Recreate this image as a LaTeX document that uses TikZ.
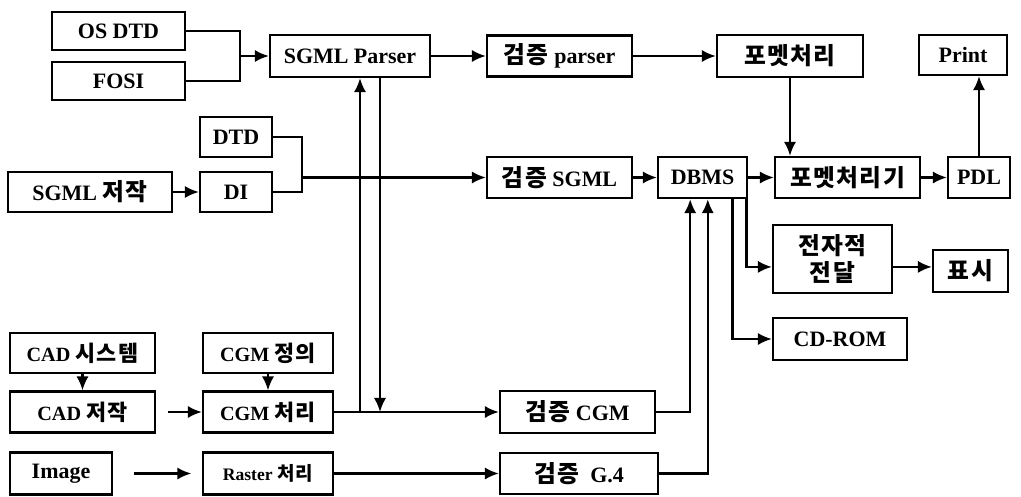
\documentclass[tikz,border=0pt]{standalone}
\usepackage{fontspec}
\setmainfont{Liberation Serif}
\newfontfamily\kr{Noto Sans CJK KR}[Scale=1.08,LetterSpace=6]
\usetikzlibrary{arrows.meta}

\begin{document}
\begin{tikzpicture}[x=1cm,y=1cm,
  blk/.style={draw,line width=1.3pt,inner sep=1pt,align=center,
    font=\fontsize{12.5}{15}\selectfont\bfseries},
  sml/.style={font=\fontsize{11.5}{14}\selectfont\bfseries},
  ln/.style={line width=1.3pt},
  arr/.style={ln,-{Latex[length=8pt,width=7pt]}}]
\path[use as bounding box] (0,0) rectangle (20.42,9.92);
% top row
\node[blk,minimum width=2.66cm,minimum height=0.76cm] (osdtd) at (2.37,9.30) {OS DTD};
\node[blk,minimum width=2.66cm,minimum height=0.76cm] (fosi) at (2.37,8.30) {FOSI};
\node[blk,minimum width=3.20cm,minimum height=0.84cm] (parser) at (7.00,8.80) {SGML Parser};
\node[blk,minimum width=2.90cm,minimum height=0.82cm] (vparser) at (11.19,8.80) {{\kr 검증} parser};
\node[blk,minimum width=2.92cm,minimum height=0.84cm] (fmt) at (15.80,8.80) {\kr 포멧처리};
\node[blk,minimum width=1.76cm,minimum height=0.80cm] (print) at (19.26,8.82) {Print};
% SGML row
\node[blk,minimum width=1.44cm,minimum height=0.80cm] (dtd) at (4.72,7.18) {DTD};
\node[blk,minimum width=1.44cm,minimum height=0.80cm] (di) at (4.72,6.08) {DI};
\node[blk,minimum width=3.28cm,minimum height=0.80cm] (sgmlw) at (1.80,6.08) {SGML {\kr 저작}};
\node[blk,minimum width=2.90cm,minimum height=0.82cm] (vsgml) at (11.19,6.37) {{\kr 검증} SGML};
\node[blk,minimum width=1.78cm,minimum height=0.82cm] (dbms) at (14.05,6.37) {DBMS};
\node[blk,minimum width=2.90cm,minimum height=0.82cm] (fmtr) at (16.95,6.37) {\kr 포멧처리기};
\node[blk,minimum width=1.24cm,minimum height=0.82cm] (pdl) at (19.58,6.37) {PDL};
% outputs
\node[blk,minimum width=2.38cm,minimum height=1.36cm] (elec) at (16.65,4.74) {\kr 전자적\\\kr 전달};
\node[blk,minimum width=1.50cm,minimum height=0.84cm] (disp) at (19.41,4.50) {\kr 표시};
\node[blk,minimum width=2.68cm,minimum height=0.84cm] (cdrom) at (16.80,3.14) {CD-ROM};
% CAD / image rows
\node[blk,sml,minimum width=2.90cm,minimum height=0.80cm] (cadsys) at (1.65,2.86) {CAD {\kr 시스템}};
\node[blk,sml,minimum width=2.60cm,minimum height=0.80cm] (cgmdef) at (5.36,2.86) {CGM {\kr 정의}};
\node[blk,sml,minimum width=2.90cm,minimum height=0.82cm] (cadw) at (1.65,1.68) {CAD {\kr 저작}};
\node[blk,sml,minimum width=2.60cm,minimum height=0.82cm] (cgmp) at (5.36,1.68) {CGM {\kr 처리}};
\node[blk,minimum width=3.10cm,minimum height=0.84cm] (vcgm) at (11.55,1.68) {{\kr 검증} CGM};
\node[blk,minimum width=2.04cm,minimum height=0.84cm] (image) at (1.22,0.45) {Image};
\node[blk,font=\fontsize{10}{12}\selectfont\bfseries,minimum width=2.60cm,minimum height=0.84cm] (raster) at (5.36,0.45) {Raster {\kr 처리}};
\node[blk,minimum width=3.16cm,minimum height=0.82cm] (vg4) at (11.58,0.45) {{\kr 검증}\ \ G.4};
% junctions
\coordinate (j1) at (4.80,8.80);
\coordinate (j2) at (6.04,6.37);
% connectors
\draw[ln] (osdtd.east) -| (j1) |- (fosi.east);
\draw[arr] (j1) -- (parser.west);
\draw[arr] (parser) -- (vparser);
\draw[arr] (vparser) -- (fmt);
\draw[arr] (fmt.south) -- (fmt.south |- fmtr.north);
\draw[ln] (dtd.east) -| (j2) |- (di.east);
\draw[arr] (j2) -- (vsgml.west);
\draw[arr] (sgmlw) -- (di);
\draw[arr] (vsgml) -- (dbms);
\draw[arr] (dbms) -- (fmtr);
\draw[arr] (fmtr) -- (pdl);
\draw[arr] (pdl.north) -- (pdl.north |- print.south);
\draw[arr] ([xshift=-1pt]dbms.south east) |- ([yshift=-4.5pt]elec.west);
\draw[arr] ([xshift=17pt]dbms.south) |- (cdrom.west);
\draw[arr] ([yshift=-4.5pt]elec.east) -- ([yshift=-4.5pt]elec.east -| disp.west);
\draw[arr] (vcgm.east) -| ([xshift=-7pt]dbms.south);
\draw[arr] (vg4.east) -| ([xshift=3pt]dbms.south);
\draw[arr] ([xshift=0.2cm]parser.south |- cgmp.east) -- ([xshift=0.2cm]parser.south);
\draw[arr] ([xshift=0.6cm]parser.south) -- ([xshift=0.6cm]parser.south |- cgmp.east);
\draw[arr] (cgmp) -- (vcgm);
\draw[arr] (cadsys) -- (cadw);
\draw[arr] (cgmdef) -- (cgmp);
\draw[arr,shorten <=7pt] (cadw) -- (cgmp);
\draw[arr,shorten <=12pt,shorten >=6pt] (image) -- (raster);
\draw[arr] (raster) -- (vg4);
\end{tikzpicture}
\end{document}
